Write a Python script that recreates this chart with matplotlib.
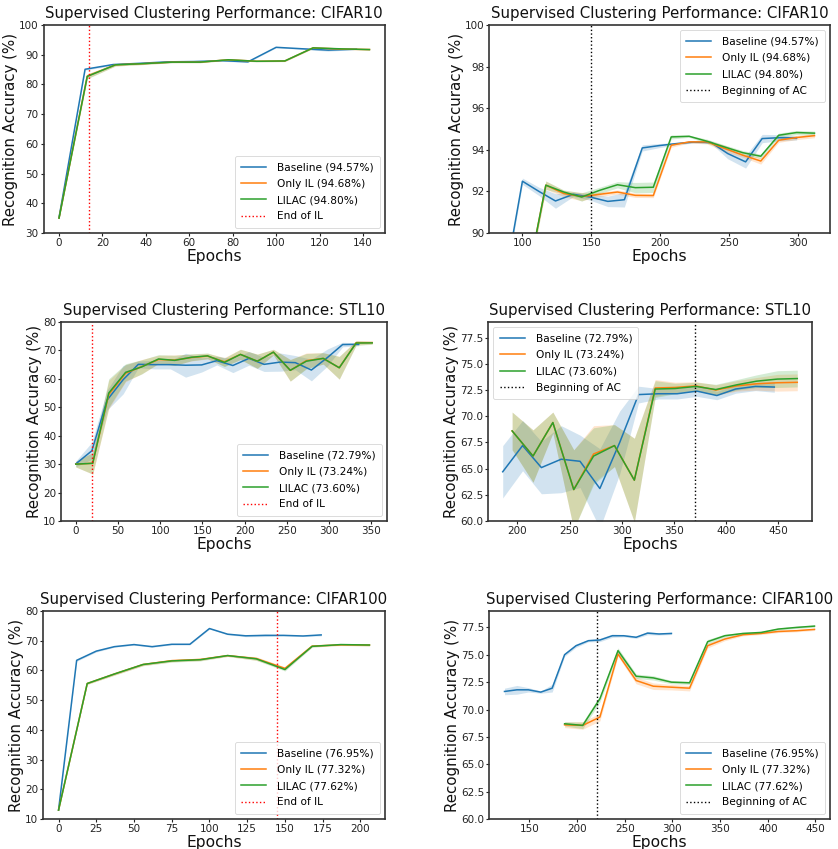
import matplotlib
matplotlib.use("Agg")
import matplotlib.pyplot as plt
import numpy as np

# ---------------- data ----------------
# CIFAR10
c10_base_ep = [0, 12, 25, 37, 50, 62, 75, 87, 100, 112, 124, 137, 149, 162, 174, 187, 199, 212, 224, 237, 249, 262, 274, 286, 299]
c10_il_ep = [0, 13, 26, 39, 52, 65, 78, 91, 104, 117, 130, 143, 156, 169, 182, 195, 208, 221, 234, 247, 260, 273, 286, 299, 312]
c10_base = [35.2, 85.1, 86.7, 87.1, 87.6, 87.7, 88.0, 87.6, 92.49, 92.0, 91.54, 91.86, 91.73, 91.52, 91.6, 94.09, 94.2, 94.3, 94.37, 94.35, 93.82, 93.42, 94.54, 94.58, 94.57]
c10_base_std = [0.3, 0.3, 0.3, 0.2, 0.3, 0.2, 0.2, 0.2, 0.15, 0.2, 0.35, 0.1, 0.15, 0.25, 0.35, 0.15, 0.1, 0.05, 0.05, 0.05, 0.25, 0.3, 0.2, 0.15, 0.1]
c10_il = [35.0, 82.8, 86.6, 87.0, 87.5, 87.5, 88.3, 87.8, 87.9, 92.3, 91.9, 91.75, 91.86, 91.97, 91.81, 91.8, 94.22, 94.38, 94.38, 94.06, 93.74, 93.46, 94.46, 94.59, 94.68]
c10_il_std = [0.3, 0.8, 0.4, 0.3, 0.2, 0.2, 0.2, 0.2, 0.2, 0.2, 0.15, 0.2, 0.1, 0.1, 0.1, 0.1, 0.1, 0.05, 0.1, 0.15, 0.1, 0.15, 0.1, 0.1, 0.1]
c10_lilac = [35.0, 82.7, 86.6, 87.0, 87.5, 87.5, 88.3, 87.8, 87.9, 92.3, 91.97, 91.73, 92.05, 92.32, 92.18, 92.2, 94.62, 94.65, 94.41, 94.13, 93.86, 93.69, 94.7, 94.83, 94.80]
c10_lilac_std = [0.3, 0.8, 0.4, 0.3, 0.2, 0.2, 0.2, 0.2, 0.2, 0.2, 0.1, 0.2, 0.15, 0.15, 0.25, 0.25, 0.1, 0.05, 0.1, 0.1, 0.1, 0.1, 0.1, 0.1, 0.1]

# STL10
stl_base_ep = [0, 19, 37, 56, 74, 93, 112, 130, 149, 167, 186, 205, 223, 242, 260, 279, 298, 316, 335, 353, 372, 391, 409, 428, 446]
stl_il_ep = [0, 20, 39, 59, 78, 98, 117, 137, 156, 176, 195, 215, 234, 254, 273, 293, 312, 332, 351, 371, 390, 410, 429, 449, 468]
stl_base = [30.1, 34.7, 52.5, 59.7, 65.1, 65.0, 65.0, 64.8, 64.9, 66.4, 64.7, 67.2, 65.1, 65.9, 65.7, 63.1, 67.5, 72.07, 72.15, 72.15, 72.4, 71.98, 72.6, 72.85, 72.79]
stl_base_std = [1.0, 3.0, 3.5, 5.0, 1.2, 1.5, 1.5, 4.2, 2.5, 1.5, 2.5, 2.4, 2.5, 3.2, 2.5, 3.8, 3.0, 0.8, 0.5, 0.5, 0.5, 0.4, 0.4, 0.4, 0.5]
stl_il = [30.0, 30.3, 54.5, 62.0, 64.3, 66.8, 66.6, 67.5, 68.0, 66.0, 68.6, 66.2, 69.4, 63.0, 66.4, 67.2, 63.9, 72.7, 72.75, 72.9, 72.5, 72.9, 73.1, 73.2, 73.24]
stl_lilac = [30.0, 30.3, 55.0, 62.3, 64.2, 67.0, 66.5, 67.6, 68.1, 65.8, 68.6, 66.2, 69.4, 63.0, 66.2, 67.2, 63.9, 72.6, 72.65, 72.85, 72.55, 73.0, 73.35, 73.55, 73.60]
stl_il_std = [1.0, 3.8, 5.0, 3.0, 2.5, 1.5, 1.8, 1.2, 1.0, 1.5, 1.8, 2.5, 1.0, 3.8, 2.7, 2.0, 4.0, 0.8, 0.5, 0.4, 0.5, 0.5, 0.6, 0.8, 0.8]
stl_lilac_std = [1.0, 3.8, 5.0, 3.0, 2.5, 1.5, 1.8, 1.2, 1.0, 1.5, 1.8, 2.5, 1.0, 3.8, 2.7, 2.0, 4.0, 0.8, 0.5, 0.4, 0.5, 0.5, 0.6, 0.8, 0.8]

# CIFAR100
c100_base_ep = [0, 12, 25, 37, 50, 62, 75, 87, 100, 112, 124, 137, 149, 162, 174, 187, 199, 212, 224, 237, 249, 262, 274, 286, 299]
c100_il_ep = [0, 19, 37, 56, 75, 94, 112, 131, 150, 168, 187, 206, 224, 243, 262, 280, 299, 318, 337, 355, 374, 393, 411, 430, 449]
c100_base = [13.0, 63.4, 66.5, 68.0, 68.7, 68.0, 68.8, 68.8, 74.1, 72.2, 71.65, 71.8, 71.8, 71.59, 71.95, 75.01, 75.83, 76.29, 76.35, 76.74, 76.74, 76.6, 76.98, 76.9, 76.95]
c100_base_std = [0.2, 0.3, 0.3, 0.2, 0.2, 0.2, 0.2, 0.2, 0.2, 0.2, 0.3, 0.4, 0.2, 0.1, 0.35, 0.15, 0.15, 0.1, 0.15, 0.15, 0.1, 0.1, 0.15, 0.1, 0.1]
c100_il = [13.0, 55.6, 58.8, 62.0, 63.3, 63.7, 65.0, 64.0, 60.7, 68.2, 68.6, 68.55, 69.31, 75.07, 72.65, 72.13, 72.04, 71.95, 75.83, 76.44, 76.83, 76.95, 77.13, 77.2, 77.32]
c100_il_std = [0.2, 0.3, 0.4, 0.4, 0.4, 0.4, 0.3, 0.6, 0.5, 0.3, 0.25, 0.35, 0.35, 0.2, 0.3, 0.3, 0.25, 0.25, 0.2, 0.15, 0.1, 0.1, 0.1, 0.1, 0.1]
c100_lilac = [13.0, 55.6, 58.8, 62.0, 63.2, 63.6, 65.0, 63.9, 60.3, 68.1, 68.7, 68.55, 70.98, 75.38, 73.04, 72.89, 72.5, 72.44, 76.2, 76.74, 76.95, 77.04, 77.35, 77.5, 77.62]
c100_lilac_std = [0.2, 0.3, 0.4, 0.4, 0.4, 0.4, 0.3, 0.5, 0.5, 0.3, 0.2, 0.3, 0.3, 0.25, 0.2, 0.2, 0.15, 0.15, 0.2, 0.15, 0.1, 0.1, 0.1, 0.1, 0.1]

labels_c10 = ["Baseline (94.57%)", "Only IL (94.68%)", "LILAC (94.80%)"]
labels_stl = ["Baseline (72.79%)", "Only IL (73.24%)", "LILAC (73.60%)"]
labels_c100 = ["Baseline (76.95%)", "Only IL (77.32%)", "LILAC (77.62%)"]

# ---------------- style ----------------
plt.rcParams["font.family"] = ["DejaVu Sans"]
C_BASE, C_IL, C_LILAC = "#1f77b4", "#ff7f0e", "#2ca02c"

W, H = 838, 849
fig = plt.figure(figsize=(W / 100, H / 100), dpi=100)


def make_ax(l, r, t, b):
    return fig.add_axes([l / W, 1 - b / H, (r - l) / W, (b - t) / H])


def band(ax, ep, mean, std, color, label, s0, s1):
    x = np.array(ep[s0:s1])
    m = np.array(mean[s0:s1])
    s = np.array(std[s0:s1])
    ax.fill_between(x, m - s, m + s, color=color, alpha=0.2, linewidth=0)
    ax.plot(x, m, color=color, lw=1.1, label=label)


def panel(ax, title, data, ranges, vline, vcolor, vlabel, ylim, yticks, xticks, loc):
    (bep, b, bs, iep, il, ils, lil, lils, labels) = data
    (bs0, bs1), (is0, is1) = ranges
    band(ax, bep, b, bs, C_BASE, labels[0], bs0, bs1)
    band(ax, iep, il, ils, C_IL, labels[1], is0, is1)
    band(ax, iep, lil, lils, C_LILAC, labels[2], is0, is1)
    ax.axvline(vline, color=vcolor, ls=":", lw=1.0, label=vlabel)
    ax.set_ylim(*ylim)
    ax.set_yticks(yticks)
    ax.set_xticks(xticks)
    ax.set_title(title, fontsize=10.8, pad=5, color="#111111")
    ax.set_xlabel("Epochs", fontsize=11.2, labelpad=0.5, color="#111111")
    ax.set_ylabel("Recognition Accuracy (%)", fontsize=10.8, labelpad=0.5, color="#111111")
    ax.tick_params(labelsize=7.5, length=2.5, width=0.8, pad=1.0, colors="#222222")
    for sp in ax.spines.values():
        sp.set_color("#333333")
        sp.set_linewidth(1.2)
    leg = ax.legend(loc=loc, fontsize=7.6, handlelength=2.4, borderpad=0.6,
                    labelspacing=0.6, handletextpad=1.0, fancybox=True, framealpha=0.8)
    leg.get_frame().set_linewidth(0.6)


c10 = (c10_base_ep, c10_base, c10_base_std, c10_il_ep, c10_il, c10_il_std, c10_lilac, c10_lilac_std, labels_c10)
stl = (stl_base_ep, stl_base, stl_base_std, stl_il_ep, stl_il, stl_il_std, stl_lilac, stl_lilac_std, labels_stl)
c100 = (c100_base_ep, c100_base, c100_base_std, c100_il_ep, c100_il, c100_il_std, c100_lilac, c100_lilac_std, labels_c100)

ax1 = make_ax(43.5, 385, 25, 233)
panel(ax1, "Supervised Clustering Performance: CIFAR10", c10, ((0, 12), (0, 12)),
      14, "red", "End of IL", (30, 100), np.arange(30, 101, 10), np.arange(0, 141, 20), "lower right")

ax2 = make_ax(489, 830, 25, 233)
panel(ax2, "Supervised Clustering Performance: CIFAR10", c10, ((7, 25), (7, 25)),
      150, "black", "Beginning of AC", (90, 100), np.arange(90, 101, 2), np.arange(100, 301, 50), "upper right")

ax3 = make_ax(61, 387, 322, 521)
panel(ax3, "Supervised Clustering Performance: STL10", stl, ((0, 19), (0, 19)),
      19.5, "red", "End of IL", (10, 80), np.arange(10, 81, 10), np.arange(0, 351, 50), "lower right")

ax4 = make_ax(488, 812, 322, 521)
panel(ax4, "Supervised Clustering Performance: STL10", stl, ((10, 25), (10, 25)),
      370, "black", "Beginning of AC", (60, 79), np.arange(60, 78.0, 2.5), np.arange(200, 451, 50), "upper left")

ax5 = make_ax(43, 385, 611, 819)
panel(ax5, "Supervised Clustering Performance: CIFAR100", c100, ((0, 15), (0, 12)),
      145, "red", "End of IL", (10, 80), np.arange(10, 81, 10), np.arange(0, 201, 25), "lower right")

ax6 = make_ax(489, 830, 611, 819)
panel(ax6, "Supervised Clustering Performance: CIFAR100", c100, ((10, 25), (10, 25)),
      221, "black", "Beginning of AC", (60, 79), np.arange(60, 78.0, 2.5), np.arange(150, 451, 50), "lower right")

fig.savefig("out.png", dpi=100, facecolor="white")
